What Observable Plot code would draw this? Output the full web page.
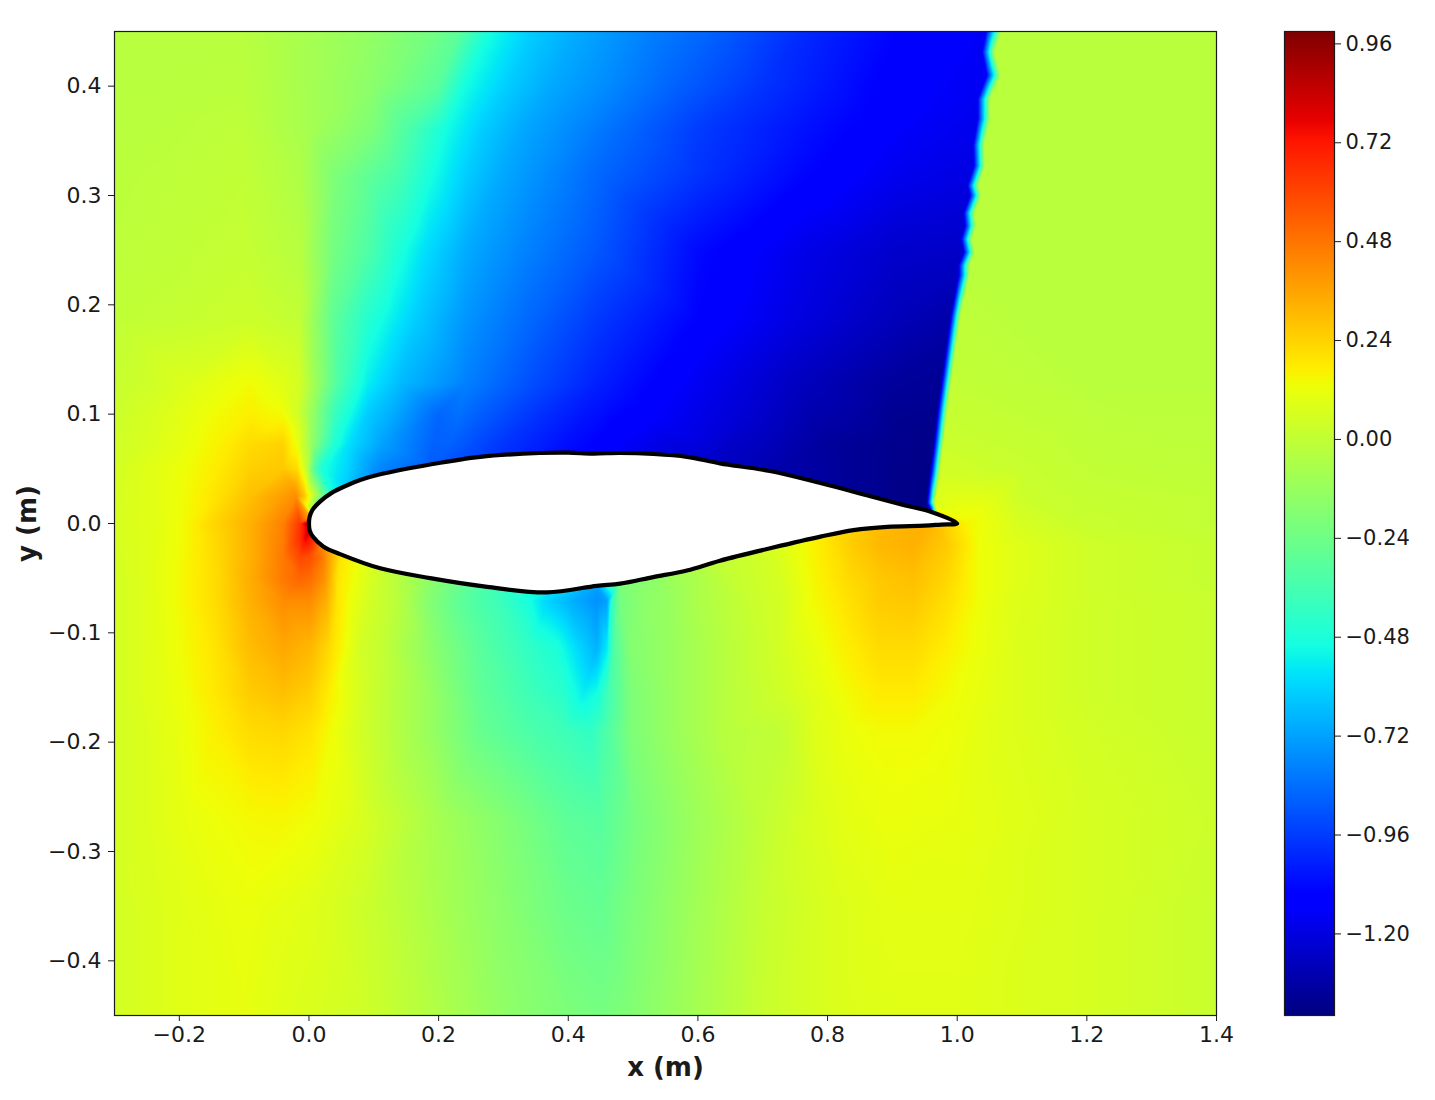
<!DOCTYPE html>
<html>
<head>
<meta charset="utf-8">
<script src="https://cdn.jsdelivr.net/npm/d3@7"></script>
<script src="https://cdn.jsdelivr.net/npm/@observablehq/plot@0.6"></script>
<style>
html,body{margin:0;padding:0;background:#fff;}
#wrap{display:flex;width:1435px;height:1100px;}
svg{overflow:visible;}
</style>
</head>
<body>
<div id="wrap"></div>
<script>
// axis ticks
const xTicks = [-0.2,0,0.2,0.4,0.6,0.8,1.0,1.2,1.4];
const yTicks = [-0.4,-0.3,-0.2,-0.1,0,0.1,0.2,0.3,0.4];
const cTicks = [-1.20,-0.96,-0.72,-0.48,-0.24,0,0.24,0.48,0.72,0.96];
const cDomain = [-1.398,0.99];

// jet colour stops
const jetPos = [0,0.11,0.125,0.34,0.35,0.375,0.64,0.65,0.66,0.89,0.91,1];
const jetCol = ["#000080","#0000ff","#0000ff","#00dbff","#00e6f7","#14ffe2","#eeff08","#f7f600","#ffec00","#ff1400","#e80000","#800000"];

// airfoil outline
const upperX = [0,0.001,0.005,0.017,0.035,0.059,0.080,0.110,0.187,0.264,0.356,0.400,0.438,0.480,0.531,0.583,0.634,0.711,0.789,0.866,0.917,0.958,1.0];
const upperY = [0,0.006,0.012,0.020,0.028,0.035,0.040,0.045,0.054,0.061,0.0645,0.0648,0.0640,0.0645,0.0636,0.061,0.055,0.048,0.037,0.025,0.017,0.011,0];
const upperV = [0.90,0.35,-0.05,-0.30,-0.50,-0.62,-0.70,-0.80,-0.88,-0.95,-1.04,-1.08,-1.11,-1.15,-1.20,-1.23,-1.26,-1.30,-1.33,-1.36,-1.38,-1.38,0.2];
const lowerX = [0.975,0.950,0.892,0.840,0.789,0.716,0.634,0.583,0.531,0.480,0.444,0.367,0.275,0.187,0.110,0.048,0.022,0.006,0.001];
const lowerY = [-0.001,-0.002,-0.003,-0.006,-0.012,-0.022,-0.034,-0.043,-0.049,-0.055,-0.057,-0.063,-0.058,-0.050,-0.041,-0.028,-0.021,-0.012,-0.006];
const lowerV = [0.28,0.33,0.31,0.25,0.18,0.06,0.00,-0.07,-0.15,-0.20,-0.72,-0.55,-0.35,-0.15,0.03,0.20,0.42,0.70,0.85];

// shock front
const shockY      = [0.45,0.431,0.410,0.388,0.370,0.346,0.327,0.309,0.300,0.284,0.272,0.260,0.248,0.236,0.227,0.190,0.165,0.135,0.105,0.074,0.045,0.019];
const shockLeftX  = [1.044,1.038,1.045,1.031,1.031,1.024,1.025,1.015,1.019,1.009,1.011,1.005,1.009,1.001,1.001,0.989,0.983,0.976,0.969,0.963,0.957,0.952];
const shockRightX = [1.068,1.058,1.067,1.051,1.051,1.042,1.043,1.033,1.037,1.027,1.029,1.023,1.027,1.019,1.019,1.005,0.999,0.992,0.985,0.979,0.973,0.966];
const shockLeftV  = [-1.15,-1.15,-1.15,-1.16,-1.17,-1.18,-1.19,-1.20,-1.20,-1.22,-1.23,-1.24,-1.25,-1.26,-1.27,-1.31,-1.33,-1.35,-1.365,-1.38,-1.385,-1.39];
const shockRightV = [-0.02,-0.02,-0.02,-0.02,-0.02,-0.02,-0.02,-0.02,-0.02,-0.02,-0.02,-0.02,-0.02,-0.02,-0.02,-0.01,-0.005,0.00,0.01,0.03,0.05,0.08];

// field samples, one flat x,value list per row
const rowP45 = [-0.3,-0.03, -0.1,-0.03, 0.0,-0.08, 0.1,-0.14, 0.2,-0.24, 0.233,-0.30, 0.28,-0.50, 0.345,-0.62, 0.417,-0.70, 0.526,-0.80, 0.635,-0.88, 0.76,-1.00, 0.91,-1.10, 1.2,-0.02, 1.4,-0.02];
const rowP40 = [-0.3,-0.03, -0.1,-0.02, 0.0,-0.08, 0.1,-0.16, 0.2,-0.30, 0.24,-0.50, 0.307,-0.62, 0.371,-0.70, 0.468,-0.78, 0.565,-0.87, 0.7,-0.98, 0.8,-1.05, 0.9,-1.12];
const rowP35 = [-0.3,-0.025, -0.1,-0.01, 0.0,-0.08, 0.1,-0.20, 0.154,-0.34, 0.21,-0.50, 0.268,-0.62, 0.325,-0.70, 0.41,-0.78, 0.494,-0.86, 0.6,-0.96, 0.76,-1.06, 0.91,-1.14];
const rowP32 = [-0.3,-0.02, -0.1,0.00, -0.014,-0.05, 0.037,-0.19, 0.09,-0.28, 0.14,-0.36, 0.19,-0.50, 0.244,-0.62, 0.295,-0.70, 0.372,-0.78, 0.449,-0.86, 0.6,-0.98, 0.76,-1.09, 0.91,-1.17, 1.2,-0.02, 1.4,-0.02];
const rowP25 = [-0.3,-0.015, -0.1,0.01, -0.014,-0.03, 0.037,-0.22, 0.09,-0.33, 0.14,-0.48, 0.18,-0.58, 0.244,-0.70, 0.32,-0.78, 0.449,-0.90, 0.6,-1.08, 0.76,-1.18, 0.9,-1.24];
const rowP19 = [-0.3,-0.005, -0.09,0.03, -0.014,0.00, 0.037,-0.28, 0.09,-0.45, 0.13,-0.54, 0.167,-0.62, 0.244,-0.75, 0.346,-0.86, 0.449,-0.97, 0.6,-1.10, 0.76,-1.20, 0.91,-1.28];
const rowP13 = [-0.3,0.015, -0.245,0.04, -0.194,0.075, -0.142,0.11, -0.09,0.14, -0.04,0.09, -0.014,0.05, 0.017,-0.15, 0.048,-0.35, 0.09,-0.54, 0.14,-0.66, 0.244,-0.80, 0.346,-0.92, 0.449,-1.03, 0.6,-1.16, 0.76,-1.27, 0.9,-1.34, 1.2,-0.02, 1.4,-0.02];
const rowP10 = [-0.3,0.03, -0.245,0.06, -0.194,0.10, -0.142,0.14, -0.09,0.17, -0.04,0.14, -0.018,0.05, 0.002,-0.10, 0.04,-0.40, 0.09,-0.62, 0.2,-0.86, 0.37,-1.00, 0.53,-1.13, 0.68,-1.23, 0.84,-1.32, 0.90,-1.36];
const rowP07 = [-0.3,0.04, -0.245,0.07, -0.194,0.11, -0.142,0.16, -0.09,0.22, -0.04,0.24, -0.018,0.12, 0.006,-0.15, 0.037,-0.45, 0.063,-0.58, 0.114,-0.72, 0.218,-0.87, 0.295,-0.97, 0.398,-1.07, 0.6,-1.20, 0.8,-1.34, 0.9,-1.37];
const rowP05 = [-0.3,0.05, -0.245,0.09, -0.194,0.13, -0.142,0.18, -0.09,0.25, -0.04,0.27, -0.018,0.22, -0.003,0.00, 0.007,-0.30, 0.02,-0.48, 1.1,0.02, 1.2,0.00, 1.4,-0.01];
const rowP02 = [-0.3,0.055, -0.245,0.09, -0.194,0.135, -0.142,0.20, -0.09,0.29, -0.04,0.38, -0.02,0.42, -0.007,0.28, 1.1,0.03, 1.2,0.01, 1.4,0.00];
const rowP00 = [-0.3,0.06, -0.245,0.09, -0.194,0.14, -0.142,0.24, -0.09,0.33, -0.04,0.45, -0.014,0.64, -0.005,0.85, 1.02,0.15, 1.1,0.06, 1.2,0.02, 1.4,0.00];
const rowM01 = [-0.3,0.06, -0.245,0.09, -0.194,0.14, -0.142,0.23, -0.09,0.33, -0.04,0.46, -0.014,0.66, -0.005,0.78];
const rowM02 = [0.84,0.26, 0.881,0.31, 0.932,0.33, 0.985,0.26, 1.009,0.20, 1.035,0.13, 1.086,0.09, 1.2,0.04, 1.4,0.01];
const rowM03 = [-0.3,0.055, -0.245,0.09, -0.194,0.145, -0.142,0.225, -0.09,0.33, -0.04,0.47, -0.014,0.60, 0.002,0.58, 0.02,0.48];
const rowM05 = [-0.3,0.05, -0.245,0.09, -0.194,0.15, -0.142,0.22, -0.09,0.34, -0.04,0.47, -0.014,0.52, 0.002,0.50, 0.022,0.42, 0.032,0.33, 0.043,0.20, 0.6,-0.06, 0.727,0.06, 0.778,0.15, 0.83,0.22, 0.881,0.27, 0.932,0.29, 0.985,0.23, 1.01,0.18, 1.035,0.13, 1.086,0.09, 1.2,0.04, 1.4,0.01];
const rowM07 = [-0.3,0.05, -0.245,0.09, -0.194,0.15, -0.142,0.22, -0.09,0.33, -0.04,0.42, 0.002,0.42, 0.027,0.33, 0.043,0.20, 0.063,0.13, 0.094,0.05, 0.136,-0.02, 0.187,-0.18, 0.238,-0.30, 0.29,-0.38, 0.341,-0.50, 0.367,-0.60, 0.403,-0.68, 0.444,-0.76, 0.46,-0.72, 0.467,-0.42, 0.48,-0.22, 0.52,-0.15, 0.557,-0.12, 0.6,-0.06, 0.68,0.02, 0.727,0.05, 0.778,0.14, 0.83,0.20, 0.881,0.26, 0.932,0.27, 0.985,0.21, 1.035,0.13, 1.086,0.085, 1.2,0.04, 1.4,0.02];
const rowM11 = [-0.3,0.05, -0.245,0.09, -0.194,0.14, -0.142,0.20, -0.09,0.30, -0.04,0.35, 0.002,0.31, 0.032,0.22, 0.079,0.05, 0.11,0.01, 0.187,-0.15, 0.264,-0.30, 0.341,-0.42, 0.383,-0.48, 0.418,-0.60, 0.444,-0.68, 0.46,-0.55, 0.47,-0.33, 0.495,-0.18, 0.557,-0.12, 0.64,-0.03, 0.727,0.05, 0.778,0.11, 0.83,0.17, 0.881,0.22, 0.932,0.22, 0.985,0.17, 1.035,0.12, 1.086,0.08, 1.2,0.04, 1.4,0.02];
const rowM16 = [-0.3,0.05, -0.245,0.09, -0.194,0.13, -0.142,0.19, -0.09,0.26, -0.04,0.29, 0.002,0.25, 0.032,0.17, 0.083,0.05, 0.187,-0.12, 0.264,-0.28, 0.341,-0.38, 0.392,-0.44, 0.423,-0.54, 0.444,-0.50, 0.46,-0.38, 0.495,-0.20, 0.557,-0.12, 0.64,-0.03, 0.727,0.04, 0.778,0.09, 0.83,0.14, 0.881,0.18, 0.932,0.18, 0.985,0.14, 1.035,0.11, 1.086,0.08, 1.2,0.04, 1.4,0.02];
const rowM19 = [-0.3,0.05, -0.245,0.08, -0.194,0.12, -0.142,0.17, -0.09,0.22, -0.04,0.23, 0.002,0.20, 0.032,0.14, 0.079,0.05, 0.187,-0.12, 0.264,-0.26, 0.341,-0.34, 0.392,-0.38, 0.434,-0.42, 0.46,-0.33, 0.495,-0.20, 0.557,-0.12, 0.64,-0.03, 0.727,0.00, 0.778,0.08, 0.83,0.12, 0.881,0.14, 0.932,0.14, 0.985,0.13, 1.035,0.10, 1.086,0.08, 1.2,0.05, 1.4,0.02];
const rowM27 = [-0.3,0.05, -0.245,0.08, -0.194,0.11, -0.142,0.13, -0.09,0.145, -0.04,0.15, 0.01,0.13, 0.079,0.07, 0.2,-0.08, 0.3,-0.18, 0.4,-0.29, 0.45,-0.31, 0.5,-0.22, 0.6,-0.10, 0.7,0.00, 0.78,0.07, 0.83,0.10, 0.9,0.12, 1.0,0.11, 1.2,0.06, 1.4,0.03];
const rowM35 = [-0.3,0.05, -0.2,0.09, -0.1,0.12, 0.0,0.09, 0.1,0.02, 0.2,-0.07, 0.3,-0.16, 0.4,-0.25, 0.45,-0.27, 0.5,-0.20, 0.6,-0.09, 0.7,0.01, 0.8,0.07, 0.9,0.10, 1.0,0.10, 1.2,0.06, 1.4,0.02];
const rowM45 = [-0.3,0.05, -0.2,0.09, -0.1,0.11, 0.0,0.07, 0.1,0.03, 0.2,-0.05, 0.3,-0.14, 0.4,-0.20, 0.45,-0.22, 0.5,-0.18, 0.6,-0.08, 0.7,0.02, 0.8,0.07, 0.9,0.09, 1.0,0.09, 1.2,0.06, 1.4,0.02];

const rowYs = [0.45,0.40,0.36,0.318,0.249,0.188,0.128,0.10,0.073,0.05,0.025,0.0,-0.013,-0.02,-0.03,-0.05,-0.071,-0.114,-0.156,-0.19,-0.27,-0.35,-0.45];
const rowLists = [rowP45,rowP40,rowP35,rowP32,rowP25,rowP19,rowP13,rowP10,rowP07,rowP05,rowP02,rowP00,rowM01,rowM02,rowM03,rowM05,rowM07,rowM11,rowM16,rowM19,rowM27,rowM35,rowM45];

const samples = [];
rowLists.forEach((list,i)=>{ for(let k=0;k<list.length;k+=2) samples.push({x:list[k],y:rowYs[i],v:list[k+1]}); });
upperX.forEach((x,i)=>samples.push({x,y:upperY[i],v:upperV[i]}));
lowerX.forEach((x,i)=>samples.push({x,y:lowerY[i],v:lowerV[i]}));
shockY.forEach((y,i)=>{
  samples.push({x:shockLeftX[i],y,v:shockLeftV[i]});
  samples.push({x:shockRightX[i],y,v:shockRightV[i]});
});

const outline = [...upperX.map((x,i)=>({x,y:upperY[i]})), ...lowerX.map((x,i)=>({x,y:lowerY[i]}))];

const jet = d3.scaleLinear().domain(jetPos).range(jetCol).interpolate(d3.interpolateRgb);
const colorOpts = {type:"linear",domain:cDomain,interpolate:(t)=>jet(t)};
const FONT = "'DejaVu Sans'";
const tickCol = "#1a1a1a";

const main = Plot.plot({
  width:1260,height:1100,
  marginLeft:114,marginRight:44,marginTop:31,marginBottom:85,
  style:{fontFamily:FONT,background:"#fff",overflow:"visible"},
  x:{domain:[-0.3,1.4],nice:false},
  y:{domain:[-0.45,0.45],nice:false},
  color:colorOpts,
  marks:[
    Plot.raster(samples,{x:"x",y:"y",fill:"v",interpolate:"barycentric",pixelSize:1}),
    Plot.line(outline,{x:"x",y:"y",fill:"#fff",stroke:"#000",strokeWidth:4.2,curve:"catmull-rom-closed",strokeLinejoin:"round"}),
    Plot.frame({stroke:tickCol,strokeWidth:1.2}),
    Plot.axisX({ticks:xTicks,tickSize:6,tickPadding:5,label:null,fontSize:22,tickFormat:d3.format(".1f"),stroke:tickCol,fill:tickCol}),
    Plot.axisY({ticks:yTicks,tickSize:6,tickPadding:7,label:null,fontSize:22,tickFormat:d3.format(".1f"),stroke:tickCol,fill:tickCol}),
    Plot.text(["x (m)"],{frameAnchor:"bottom",lineAnchor:"middle",dy:52,fontSize:26,fontWeight:"bold",fill:tickCol}),
    Plot.text(["y (m)"],{frameAnchor:"left",textAnchor:"middle",lineAnchor:"middle",rotate:-90,dx:-87,fontSize:26,fontWeight:"bold",fill:tickCol})
  ]
});

const bar = Plot.plot({
  width:175,height:1100,
  marginLeft:24,marginRight:101,marginTop:31,marginBottom:85,
  style:{fontFamily:FONT,background:"#fff",overflow:"visible"},
  x:{domain:[0,1],axis:null},
  y:{domain:cDomain,nice:false},
  color:colorOpts,
  marks:[
    Plot.raster({x1:0,x2:1,y1:cDomain[0],y2:cDomain[1],width:1,height:984,fill:(x,y)=>y}),
    Plot.frame({stroke:tickCol,strokeWidth:1.2}),
    Plot.axisY({anchor:"right",ticks:cTicks,tickSize:6,tickPadding:5,label:null,fontSize:21,tickFormat:d3.format(".2f"),stroke:tickCol,fill:tickCol})
  ]
});

document.getElementById("wrap").append(main,bar);
</script>
</body>
</html>
